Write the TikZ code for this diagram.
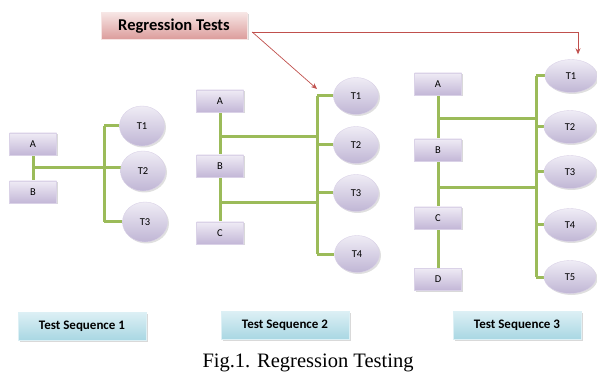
\documentclass[tikz,border=0pt]{standalone}
\usepackage{fontspec}
\setmainfont{Carlito}
\newfontfamily\capfont{Liberation Serif}
\usepackage{tikz}
\usetikzlibrary{calc, shapes.geometric, shadows, backgrounds, arrows.meta}

\definecolor{lnkgreen}{HTML}{9BBB59}
\definecolor{arrred}{HTML}{C0504D}
\definecolor{boxtop}{HTML}{EFEBF5}
\definecolor{boxbot}{HTML}{C3B7D7}
\definecolor{boxline}{HTML}{DAD2E7}
\definecolor{elltop}{HTML}{EFECF5}
\definecolor{ellbot}{HTML}{C0B6D5}
\definecolor{seqtop}{HTML}{DDF0F5}
\definecolor{seqbot}{HTML}{A9D7E3}
\definecolor{rttop}{HTML}{F6E4E3}
\definecolor{rtbot}{HTML}{DC9D9C}

\tikzset{
	stepbox/.style = {rectangle, minimum width = 47pt, minimum height = 22pt, inner sep = 0pt,
		draw = boxline, top color = boxtop, bottom color = boxbot,
		drop shadow = {opacity = 0.3, shadow xshift = 1.5pt, shadow yshift = -1.5pt},
		font = \fontsize{10.5}{12}\selectfont},
	testcase/.style = {ellipse, inner sep = 0pt, draw = boxline,
		top color = elltop, bottom color = ellbot,
		drop shadow = {opacity = 0.25, shadow xshift = 1.5pt, shadow yshift = -1.5pt},
		font = \fontsize{10.5}{12}\selectfont},
	seqlabel/.style = {rectangle, minimum width = 128pt, minimum height = 28pt, inner sep = 0pt,
		draw = seqtop, top color = seqtop, bottom color = seqbot,
		drop shadow = {opacity = 0.3, shadow xshift = 1.5pt, shadow yshift = -1.5pt},
		font = \fontsize{13}{15}\selectfont\bfseries},
	link/.style = {draw = lnkgreen, line width = 3pt},
	pointer/.style = {draw = arrred, line width = 0.7pt, -{Stealth[length = 6pt, width = 5pt]}}
}

\begin{document}
\begin{tikzpicture}[x = 1pt, y = -1pt]
		\useasboundingbox (0, 0) rectangle (597, 374);
		
		% sequence 1
		\node [stepbox] (a1) at (33, 144) {A};
		\node [stepbox] (b1) at (33, 192) {B};
		\node [testcase, minimum width = 45pt, minimum height = 40pt] (t11) at (142, 126) {T1};
		\node [testcase, minimum width = 45pt, minimum height = 40pt] (t12) at (143, 171) {T2};
		\node [testcase, minimum width = 45pt, minimum height = 40pt] (t13) at (145, 222) {T3};
		\coordinate (k1) at (104, 0);
		
		% sequence 2
		\node [stepbox] (a2) at (220, 101) {A};
		\node [stepbox] (b2) at (220, 166) {B};
		\node [stepbox] (c2) at (220, 233) {C};
		\node [testcase, minimum width = 45pt, minimum height = 37pt] (t21) at (356, 96) {T1};
		\node [testcase, minimum width = 45pt, minimum height = 37pt] (t22) at (356, 145) {T2};
		\node [testcase, minimum width = 45pt, minimum height = 37pt] (t23) at (356, 193) {T3};
		\node [testcase, minimum width = 45pt, minimum height = 37pt] (t24) at (357, 254) {T4};
		\coordinate (k2) at (317, 0);
		
		% sequence 3
		\node [stepbox] (a3) at (438, 84) {A};
		\node [stepbox] (b3) at (438, 150) {B};
		\node [stepbox] (c3) at (438, 218) {C};
		\node [stepbox] (d3) at (438, 279) {D};
		\node [testcase, minimum width = 52pt, minimum height = 33pt] (t31) at (571, 76) {T1};
		\node [testcase, minimum width = 52pt, minimum height = 33pt] (t32) at (570, 127) {T2};
		\node [testcase, minimum width = 52pt, minimum height = 33pt] (t33) at (570, 172) {T3};
		\node [testcase, minimum width = 52pt, minimum height = 33pt] (t34) at (570, 225) {T4};
		\node [testcase, minimum width = 52pt, minimum height = 33pt] (t35) at (570, 277) {T5};
		\coordinate (k3) at (536, 0);
		
		\begin{scope}[on background layer]
			\draw [link] (a1) -- (b1);
			\draw [link] ($(a1)!.5!(b1)$) coordinate (m1) -- (m1 -| t12);
			\draw [link] (t11.west -| k1) -- (t13.west -| k1);
			\foreach \i in {1, 3}
				\draw [link] (t1\i.west -| k1) -- (t1\i);
			
			\draw [link] (a2) -- (c2);
			\draw [link] ($(a2)!.55!(b2)$) coordinate (m21) -- (m21 -| k2);
			\draw [link] ($(b2)!.55!(c2)$) coordinate (m22) -- (m22 -| k2);
			\draw [link] (t21.west -| k2) -- (t24.west -| k2);
			\foreach \i in {1, ..., 4}
				\draw [link] (t2\i.west -| k2) -- (t2\i);
			
			\draw [link] (a3) -- (d3);
			\draw [link] ($(a3)!.53!(b3)$) coordinate (m31) -- (m31 -| k3);
			\draw [link] ($(b3)!.55!(c3)$) coordinate (m32) -- (m32 -| k3);
			\draw [link] (t31.west -| k3) -- (t35.west -| k3);
			\foreach \i in {1, ..., 5}
				\draw [link] (t3\i.west -| k3) -- (t3\i);
		\end{scope}
		
		% regression tests
		\node [rectangle, minimum width = 146pt, minimum height = 26pt, inner sep = 0pt,
			draw = rttop, top color = rttop, bottom color = rtbot,
			drop shadow = {opacity = 0.3, shadow xshift = 1.5pt, shadow yshift = -1.5pt},
			font = \fontsize{16.5}{18}\selectfont\bfseries] (rt) at (174, 26) {Regression Tests};
		\coordinate (r0) at ([xshift = 5pt, yshift = -6pt]rt.east);
		\draw [pointer] (r0) -- ([yshift = 7pt]t21.west -| k2);
		\draw [pointer] (r0) -| ([xshift = 7pt, yshift = 5pt]t31.north);
		
		\node [seqlabel] (s1) at (82, 326) {Test Sequence 1};
		\node [seqlabel] (s2) at (285, 325) {Test Sequence 2};
		\node [seqlabel] (s3) at (517, 325) {Test Sequence 3};
		
		\node [font = \capfont\fontsize{20.5}{24}\selectfont] (cap) at (308, 363) {Fig.1. Regression Testing};
	\end{tikzpicture}
\end{document}
